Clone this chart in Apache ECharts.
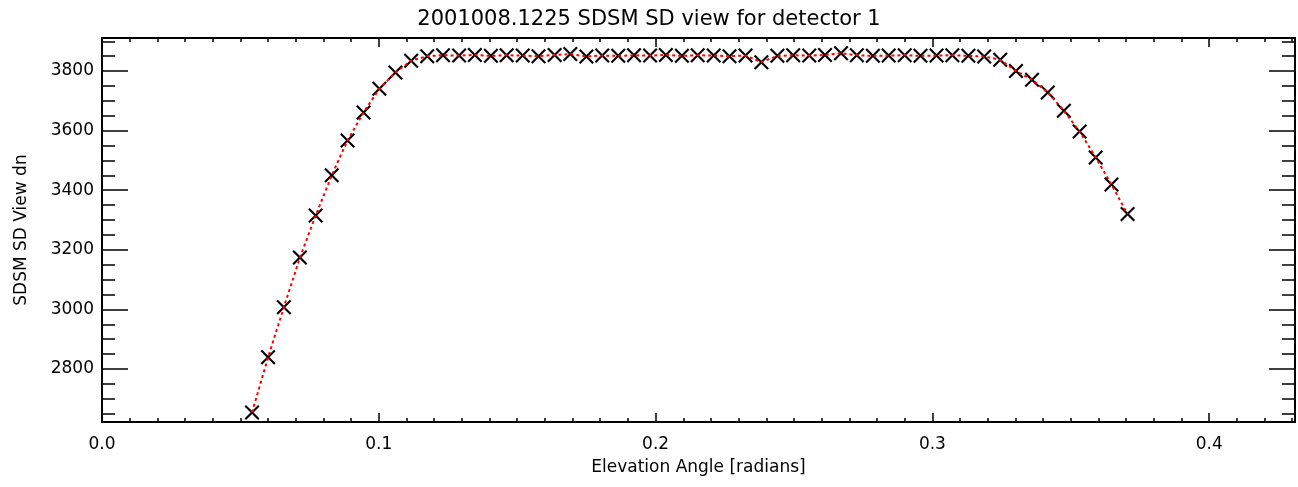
<!DOCTYPE html>
<html>
<head>
<meta charset="utf-8">
<script src="https://cdn.jsdelivr.net/npm/echarts@6/dist/echarts.min.js"></script>
<style>
  html, body { margin: 0; padding: 0; background: #fff; }
  #chart { width: 1298px; height: 487px; }
</style>
</head>
<body>
<div id="chart"></div>
<script>
// Elevation angle of each SD view sample, radians
const elevation = [
  0.0542, 0.0600, 0.0657, 0.0715, 0.0772, 0.0830, 0.0887, 0.0945, 0.1002, 0.1060,
  0.1117, 0.1175, 0.1232, 0.1290, 0.1347, 0.1405, 0.1462, 0.1520, 0.1577, 0.1635,
  0.1692, 0.1750, 0.1807, 0.1865, 0.1922, 0.1980, 0.2037, 0.2095, 0.2152, 0.2210,
  0.2267, 0.2325, 0.2382, 0.2440, 0.2497, 0.2555, 0.2612, 0.2670, 0.2727, 0.2785,
  0.2842, 0.2900, 0.2957, 0.3015, 0.3072, 0.3130, 0.3187, 0.3245, 0.3302, 0.3360,
  0.3417, 0.3475, 0.3532, 0.3590, 0.3647, 0.3705
];
// SDSM SD view counts (dn) for detector 1
const sdView = [
  2654, 2839, 3007, 3174, 3315, 3450, 3567, 3661, 3741, 3795,
  3835, 3850, 3853, 3852, 3854, 3851, 3853, 3852, 3850, 3854,
  3857, 3849, 3852, 3851, 3853, 3852, 3854, 3851, 3853, 3852,
  3850, 3852, 3830, 3851, 3853, 3852, 3854, 3860, 3853, 3851,
  3852, 3853, 3851, 3852, 3853, 3851, 3849, 3838, 3800, 3771,
  3728, 3667, 3597, 3510, 3419, 3320
];
const yMajorTicks = [2800, 3000, 3200, 3400, 3600, 3800];
const yMinorTicks = [2650, 2700, 2750, 2850, 2900, 2950, 3050, 3100, 3150, 3250, 3300, 3350,
  3450, 3500, 3550, 3650, 3700, 3750, 3850, 3900];
const titleText = '2001008.1225 SDSM SD view for detector 1';
const xTitle = 'Elevation Angle [radians]';
const yTitle = 'SDSM SD View dn';

const points = elevation.map((x, i) => [x, sdView[i]]);
const FONT = 'DejaVu Sans';
const X_MIN = 0, X_MAX = 0.431, Y_MIN = 2622, Y_MAX = 3911;

// X-shaped plot symbol
const cross = 'path://M0,1 L1,0 L5,4 L9,0 L10,1 L6,5 L10,9 L9,10 L5,6 L1,10 L0,9 L4,5 Z';
const axisLine = { show: true, onZero: false, lineStyle: { color: '#000', width: 2 } };

function xAxisDef(pos, labels) {
  return {
    type: 'value', position: pos, min: X_MIN, max: X_MAX, interval: 0.1,
    axisLine: axisLine,
    axisTick: { show: true, inside: true, length: 9, lineStyle: { color: '#000', width: 1.5 } },
    minorTick: { show: true, splitNumber: 10, length: 4, lineStyle: { color: '#000', width: 1.5 } },
    splitLine: { show: false },
    axisLabel: labels ? {
      show: true, color: '#000', fontFamily: FONT, fontSize: 17, margin: 14,
      showMaxLabel: false,
      formatter: v => v.toFixed(1)
    } : { show: false },
    name: labels ? xTitle : '',
    nameLocation: 'middle', nameGap: 37,
    nameTextStyle: { color: '#000', fontFamily: FONT, fontSize: 17 }
  };
}

function yAxisDef(pos, ticks, len, labels) {
  return {
    type: 'value', position: pos, min: Y_MIN, max: Y_MAX,
    axisLine: axisLine,
    axisTick: { show: true, inside: true, length: len, customValues: ticks,
      lineStyle: { color: '#000', width: 1.5 } },
    splitLine: { show: false },
    axisLabel: labels ? {
      show: true, color: '#000', fontFamily: FONT, fontSize: 17, margin: 8,
      customValues: ticks,
      formatter: v => String(Math.round(v))
    } : { show: false },
    name: labels ? yTitle : '',
    nameLocation: 'middle', nameGap: 72, nameRotate: 90,
    nameTextStyle: { color: '#000', fontFamily: FONT, fontSize: 17 }
  };
}

const chart = echarts.init(document.getElementById('chart'), null, { renderer: 'canvas' });
chart.setOption({
  animation: false,
  backgroundColor: '#fff',
  title: {
    text: titleText, left: 'center', top: 4,
    textStyle: { color: '#000', fontFamily: FONT, fontSize: 21, fontWeight: 'normal' }
  },
  grid: { left: 102, right: 3, top: 38, bottom: 65, containLabel: false, outerBoundsMode: 'none' },
  xAxis: [xAxisDef('bottom', true), xAxisDef('top', false)],
  yAxis: [
    yAxisDef('left', yMajorTicks, 26, true),
    yAxisDef('left', yMinorTicks, 13, false),
    yAxisDef('right', yMajorTicks, 26, false),
    yAxisDef('right', yMinorTicks, 13, false)
  ],
  series: [
    {
      type: 'scatter', xAxisIndex: 0, yAxisIndex: 0, data: points,
      symbol: cross, symbolSize: 15, itemStyle: { color: '#000', opacity: 1 }, z: 2
    },
    {
      type: 'line', xAxisIndex: 0, yAxisIndex: 0, data: points,
      showSymbol: false, symbol: 'none',
      lineStyle: { color: '#ff0000', width: 2, type: [3, 3] }, z: 3
    }
  ]
});
</script>
</body>
</html>
